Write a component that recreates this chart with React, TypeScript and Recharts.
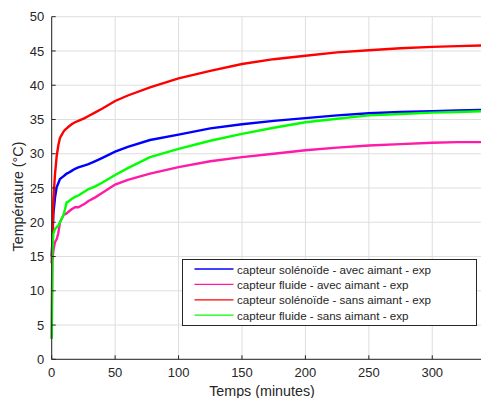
import { LineChart, Line, XAxis, YAxis, CartesianGrid } from "recharts";

const temps = [0, 0.5, 1.3, 2.6, 3.9, 5.2, 6.5, 9.2, 10.5, 11.8, 13, 15.7, 18.4, 21, 26, 29, 34, 40, 50, 60, 77.5, 100, 125, 150, 175, 200, 225, 250, 275, 300, 320, 340];

const solenoideAvec = [15, 17, 21.2, 23.6, 25.1, 25.7, 26.3, 26.7, 26.9, 27.1, 27.2, 27.5, 27.8, 28.0, 28.3, 28.5, 28.9, 29.4, 30.3, 31.0, 32.0, 32.8, 33.7, 34.3, 34.8, 35.2, 35.6, 35.9, 36.1, 36.2, 36.3, 36.4];
const fluideAvec = [3, 14.2, 15.9, 17.1, 17.5, 18.4, 20.0, 21.0, 21.2, 21.3, 21.5, 21.9, 22.2, 22.2, 22.7, 23.1, 23.6, 24.3, 25.5, 26.2, 27.1, 28.05, 28.9, 29.5, 30.0, 30.5, 30.9, 31.2, 31.4, 31.6, 31.7, 31.7];
const solenoideSans = [14, 17.3, 23.2, 27.0, 29.6, 31.2, 32.3, 33.2, 33.5, 33.7, 33.9, 34.3, 34.6, 34.8, 35.2, 35.5, 36.0, 36.6, 37.7, 38.5, 39.7, 41.0, 42.1, 43.1, 43.8, 44.3, 44.8, 45.1, 45.4, 45.6, 45.7, 45.8];
const fluideSans = [3, 15.9, 18.3, 19.0, 19.3, 19.5, 20.0, 21.0, 21.9, 22.9, 23.0, 23.4, 23.7, 23.9, 24.5, 24.85, 25.2, 25.8, 26.9, 27.9, 29.5, 30.7, 31.9, 32.9, 33.8, 34.6, 35.1, 35.6, 35.8, 36.0, 36.1, 36.2];

const xTicks = [0, 50, 100, 150, 200, 250, 300];
const yTicks = [0, 5, 10, 15, 20, 25, 30, 35, 40, 45, 50];

const series = [
  { key: "solenoideAvec", name: "capteur solénoïde - avec aimant - exp", color: "#0000ff" },
  { key: "fluideAvec", name: "capteur fluide - avec aimant - exp", color: "#ff1aa8" },
  { key: "solenoideSans", name: "capteur solénoïde - sans aimant - exp", color: "#ff0000" },
  { key: "fluideSans", name: "capteur fluide - sans aimant - exp", color: "#00ff00" },
];

const data = temps.map((t, i) => ({
  t,
  solenoideAvec: solenoideAvec[i],
  fluideAvec: fluideAvec[i],
  solenoideSans: solenoideSans[i],
  fluideSans: fluideSans[i],
}));

const AXIS = "#262626";
const FONT = "'Liberation Sans', Arial, sans-serif";

function LegendBox() {
  return (
    <svg
      width={296}
      height={68}
      style={{ position: "absolute", left: 181.5, top: 259, fontFamily: FONT }}
    >
      <rect x={0.5} y={0.5} width={294} height={66} fill="#fff" stroke={AXIS} strokeWidth={1} />
      {series.map((s, i) => {
        const y = 10 + i * 15.4;
        return (
          <g key={s.key}>
            <line x1={12.5} x2={51.5} y1={y} y2={y} stroke={s.color} strokeWidth={1.3} />
            <text x={55} y={y} dominantBaseline="central" fontSize={11.6} fill={AXIS}>
              {s.name}
            </text>
          </g>
        );
      })}
    </svg>
  );
}

export default function App() {
  return (
    <div
      style={{
        position: "absolute",
        left: 0,
        top: 0,
        width: 481,
        height: 398,
        overflow: "hidden",
        background: "#fff",
        fontFamily: FONT,
      }}
    >
      <LineChart width={483} height={398} data={data} margin={{ top: 16.7, right: 0, bottom: 0, left: 0 }}>
        <CartesianGrid stroke="#dedede" strokeWidth={1} />
        <XAxis
          dataKey="t"
          type="number"
          domain={[0, 340]}
          ticks={xTicks}
          height={38.7}
          stroke={AXIS}
          tickSize={-4}
          tickMargin={12}
          tick={{ fontSize: 13, fill: AXIS }}
          label={{
            content: () => (
              <text x={262} y={391} textAnchor="middle" dominantBaseline="central" fontSize={14.3} fill={AXIS}>
                Temps (minutes)
              </text>
            ),
          }}
        />
        <XAxis
          xAxisId="top"
          orientation="top"
          dataKey="t"
          type="number"
          domain={[0, 340]}
          ticks={xTicks}
          height={0}
          stroke={AXIS}
          tickSize={-4}
          tick={() => <g />}
        />
        <YAxis
          type="number"
          domain={[0, 50]}
          ticks={yTicks}
          width={51.7}
          stroke={AXIS}
          tickSize={-4}
          tickMargin={11.4}
          tick={{ fontSize: 13, fill: AXIS }}
          label={{
            content: () => (
              <text
                x={17.7}
                y={196.5}
                transform="rotate(-90 17.7 196.5)"
                textAnchor="middle"
                dominantBaseline="central"
                fontSize={14.3}
                fill={AXIS}
              >
                Température (°C)
              </text>
            ),
          }}
        />
        {series.map((s) => (
          <Line
            key={s.key}
            dataKey={s.key}
            name={s.name}
            stroke={s.color}
            strokeWidth={2.4}
            dot={false}
            type="linear"
            isAnimationActive={false}
          />
        ))}
      </LineChart>
      <LegendBox />
    </div>
  );
}
